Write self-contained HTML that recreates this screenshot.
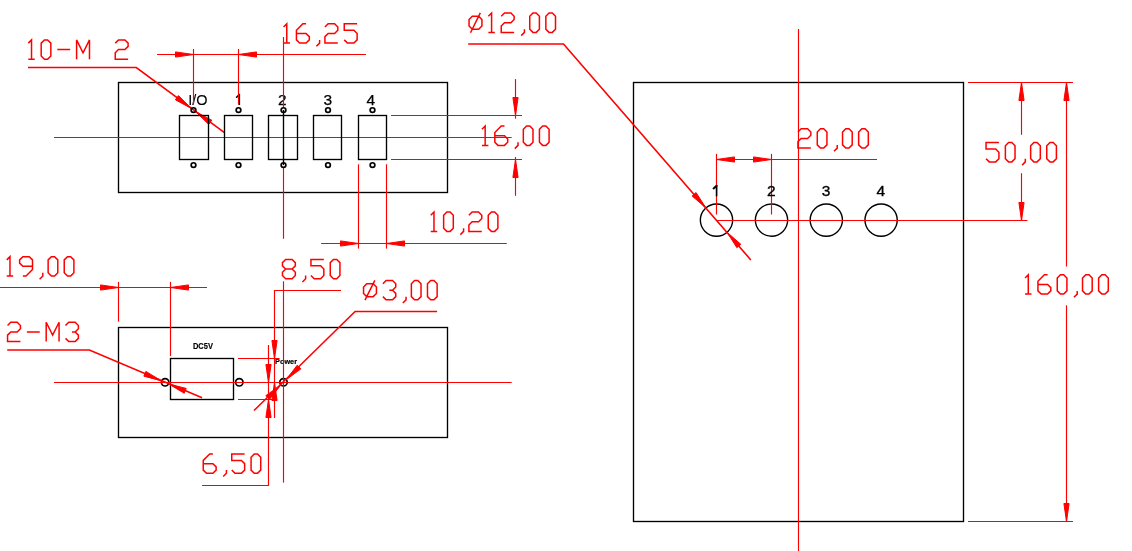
<!DOCTYPE html>
<html><head><meta charset="utf-8"><style>
html,body{margin:0;padding:0;background:#fff;}
body{width:1132px;height:551px;overflow:hidden;}
svg{display:block;}
text{font-family:"Liberation Sans",sans-serif;fill:#000;}
</style></head><body>
<svg width="1132" height="551" viewBox="0 0 1132 551" style="will-change:transform">
<rect x="0" y="0" width="1132" height="551" fill="#fff"/>
<text x="197.8" y="104.9" font-size="15.5" font-weight="normal" text-anchor="middle" stroke="#000" stroke-width="0.12" textLength="19.3" lengthAdjust="spacingAndGlyphs">I/O</text>
<line x1="239.3" y1="93.9" x2="239.3" y2="105" stroke="#000" stroke-width="1.6"/>
<line x1="236.6" y1="97.2" x2="239.3" y2="94.5" stroke="#000" stroke-width="1.6" stroke-linecap="round"/>
<text x="282.2" y="104.9" font-size="15.5" font-weight="normal" text-anchor="middle" stroke="#000" stroke-width="0.25">2</text>
<text x="327.7" y="104.9" font-size="15.5" font-weight="normal" text-anchor="middle" stroke="#000" stroke-width="0.25">3</text>
<text x="370.9" y="104.9" font-size="15.5" font-weight="normal" text-anchor="middle" stroke="#000" stroke-width="0.25">4</text>
<text x="192.9" y="348.7" font-size="8.4" font-weight="bold" textLength="20" lengthAdjust="spacingAndGlyphs" stroke="#000" stroke-width="0.15">DC5V</text>
<text x="275.1" y="364.1" font-size="8" font-weight="bold" textLength="21.9" lengthAdjust="spacingAndGlyphs" stroke="#000" stroke-width="0.2">Power</text>
<rect x="118.5" y="82.5" width="329" height="110" fill="none" stroke="#000" stroke-width="1.35"/>
<line x1="54" y1="137.5" x2="511.7" y2="137.5" stroke="#ff0000" stroke-width="1.15"/>
<line x1="283.5" y1="37" x2="283.5" y2="107.4" stroke="#ff0000" stroke-width="1.15"/>
<line x1="283.5" y1="167.8" x2="283.5" y2="238.8" stroke="#ff0000" stroke-width="1.15"/>
<line x1="193.5" y1="49" x2="193.5" y2="104.5" stroke="#ff0000" stroke-width="1.15"/>
<line x1="238.5" y1="49" x2="238.5" y2="104.5" stroke="#ff0000" stroke-width="1.15"/>
<line x1="157" y1="54.5" x2="366" y2="54.5" stroke="#ff0000" stroke-width="1.15"/>
<polygon points="193.5,54.5 175.5,57.1 175.5,51.9" fill="#ff0000" stroke="#ff0000" stroke-width="1" stroke-linejoin="round"/>
<polygon points="238.5,54.5 256.5,51.9 256.5,57.1" fill="#ff0000" stroke="#ff0000" stroke-width="1" stroke-linejoin="round"/>
<path d="M 283.55,27 L 286.77,23.78 L 286.77,43.1 M 283.55,43.1 L 289.99,43.1 M 306.09,23.78 L 302.87,23.78 L 296.43,30.22 L 296.43,39.88 L 299.65,43.1 L 306.09,43.1 L 309.31,39.88 L 309.31,36.66 L 306.09,33.44 L 296.43,33.44 M 319.61,39.88 L 319.61,43.1 L 316.39,46.32 M 324.93,27 L 328.15,23.78 L 334.59,23.78 L 337.81,27 L 337.81,30.22 L 334.59,33.44 L 328.15,33.44 L 324.93,36.66 L 324.93,43.1 L 337.81,43.1 M 344.25,39.88 L 347.47,43.1 L 353.91,43.1 L 357.13,39.88 L 357.13,33.44 L 353.91,30.22 L 344.25,30.22 L 344.25,23.78 L 357.13,23.78" fill="none" stroke="#ff0000" stroke-width="1.5" stroke-linejoin="miter" stroke-linecap="butt"/>
<path d="M 28.3,43.1 L 31.52,39.88 L 31.52,59.2 M 28.3,59.2 L 34.74,59.2 M 44.4,59.2 L 47.62,59.2 L 50.84,55.98 L 50.84,43.1 L 47.62,39.88 L 44.4,39.88 L 41.18,43.1 L 41.18,55.98 Z M 57.28,49.54 L 70.16,49.54 M 76.6,59.2 L 76.6,39.88 L 83.04,52.76 L 89.48,39.88 L 89.48,59.2 M 115.24,43.1 L 118.46,39.88 L 124.9,39.88 L 128.12,43.1 L 128.12,46.32 L 124.9,49.54 L 118.46,49.54 L 115.24,52.76 L 115.24,59.2 L 128.12,59.2" fill="none" stroke="#ff0000" stroke-width="1.5" stroke-linejoin="miter" stroke-linecap="butt"/>
<polyline points="28,67.5 136.3,67.5 224.5,132.6" fill="none" stroke="#ff0000" stroke-width="1.6"/>
<polygon points="191.33,108.49 175.37,99.77 178.49,95.61" fill="#ff0000" stroke="#ff0000" stroke-width="1" stroke-linejoin="round"/>
<polygon points="195.67,111.71 211.77,120.16 208.72,124.38" fill="#ff0000" stroke="#ff0000" stroke-width="1" stroke-linejoin="round"/>
<line x1="391" y1="115.5" x2="522" y2="115.5" stroke="#ff0000" stroke-width="1.15"/>
<line x1="391" y1="159.5" x2="522" y2="159.5" stroke="#ff0000" stroke-width="1.15"/>
<line x1="515.5" y1="79.1" x2="515.5" y2="118.7" stroke="#ff0000" stroke-width="1.15"/>
<line x1="515.5" y1="157" x2="515.5" y2="195.8" stroke="#ff0000" stroke-width="1.15"/>
<polygon points="515.5,115.5 512.9,97.5 518.1,97.5" fill="#ff0000" stroke="#ff0000" stroke-width="1" stroke-linejoin="round"/>
<polygon points="515.5,159.5 518.1,177.5 512.9,177.5" fill="#ff0000" stroke="#ff0000" stroke-width="1" stroke-linejoin="round"/>
<path d="M 481.95,129.3 L 485.17,126.08 L 485.17,145.4 M 481.95,145.4 L 488.39,145.4 M 504.49,126.08 L 501.27,126.08 L 494.83,132.52 L 494.83,142.18 L 498.05,145.4 L 504.49,145.4 L 507.71,142.18 L 507.71,138.96 L 504.49,135.74 L 494.83,135.74 M 518.01,142.18 L 518.01,145.4 L 514.79,148.62 M 526.55,145.4 L 529.77,145.4 L 532.99,142.18 L 532.99,129.3 L 529.77,126.08 L 526.55,126.08 L 523.33,129.3 L 523.33,142.18 Z M 542.65,145.4 L 545.87,145.4 L 549.09,142.18 L 549.09,129.3 L 545.87,126.08 L 542.65,126.08 L 539.43,129.3 L 539.43,142.18 Z" fill="none" stroke="#ff0000" stroke-width="1.5" stroke-linejoin="miter" stroke-linecap="butt"/>
<line x1="358.5" y1="164.3" x2="358.5" y2="248.6" stroke="#ff0000" stroke-width="1.15"/>
<line x1="386.5" y1="164.3" x2="386.5" y2="248.6" stroke="#ff0000" stroke-width="1.15"/>
<line x1="321.1" y1="243.5" x2="506.8" y2="243.5" stroke="#ff0000" stroke-width="1.15"/>
<polygon points="358.5,243.5 340.5,246.1 340.5,240.9" fill="#ff0000" stroke="#ff0000" stroke-width="1" stroke-linejoin="round"/>
<polygon points="386.5,243.5 404.5,240.9 404.5,246.1" fill="#ff0000" stroke="#ff0000" stroke-width="1" stroke-linejoin="round"/>
<path d="M 430.75,215.3 L 433.97,212.08 L 433.97,231.4 M 430.75,231.4 L 437.19,231.4 M 446.85,231.4 L 450.07,231.4 L 453.29,228.18 L 453.29,215.3 L 450.07,212.08 L 446.85,212.08 L 443.63,215.3 L 443.63,228.18 Z M 463.59,228.18 L 463.59,231.4 L 460.37,234.62 M 468.91,215.3 L 472.13,212.08 L 478.57,212.08 L 481.79,215.3 L 481.79,218.52 L 478.57,221.74 L 472.13,221.74 L 468.91,224.96 L 468.91,231.4 L 481.79,231.4 M 491.45,231.4 L 494.67,231.4 L 497.89,228.18 L 497.89,215.3 L 494.67,212.08 L 491.45,212.08 L 488.23,215.3 L 488.23,228.18 Z" fill="none" stroke="#ff0000" stroke-width="1.5" stroke-linejoin="miter" stroke-linecap="butt"/>
<rect x="179.5" y="115.5" width="29" height="44" fill="none" stroke="#000" stroke-width="1.35"/>
<circle cx="193.5" cy="110.1" r="2.35" fill="none" stroke="#000" stroke-width="1.7"/>
<circle cx="193.5" cy="165.1" r="2.35" fill="none" stroke="#000" stroke-width="1.7"/>
<rect x="224.5" y="115.5" width="28" height="44" fill="none" stroke="#000" stroke-width="1.35"/>
<circle cx="238.5" cy="110.1" r="2.35" fill="none" stroke="#000" stroke-width="1.7"/>
<circle cx="238.5" cy="165.1" r="2.35" fill="none" stroke="#000" stroke-width="1.7"/>
<rect x="268.5" y="115.5" width="29" height="44" fill="none" stroke="#000" stroke-width="1.35"/>
<circle cx="283.5" cy="110.1" r="2.35" fill="none" stroke="#000" stroke-width="1.7"/>
<circle cx="283.5" cy="165.1" r="2.35" fill="none" stroke="#000" stroke-width="1.7"/>
<rect x="313.5" y="115.5" width="28" height="44" fill="none" stroke="#000" stroke-width="1.35"/>
<circle cx="328" cy="110.1" r="2.35" fill="none" stroke="#000" stroke-width="1.7"/>
<circle cx="328" cy="165.1" r="2.35" fill="none" stroke="#000" stroke-width="1.7"/>
<rect x="358.5" y="115.5" width="28" height="44" fill="none" stroke="#000" stroke-width="1.35"/>
<circle cx="372.5" cy="110.1" r="2.35" fill="none" stroke="#000" stroke-width="1.7"/>
<circle cx="372.5" cy="165.1" r="2.35" fill="none" stroke="#000" stroke-width="1.7"/>
<line x1="283.5" y1="110" x2="283.5" y2="165.1" stroke="#000" stroke-width="1.35"/>
<rect x="118.5" y="327.5" width="329" height="110" fill="none" stroke="#000" stroke-width="1.35"/>
<rect x="170.5" y="358.5" width="63" height="41" fill="none" stroke="#000" stroke-width="1.35"/>
<circle cx="165.1" cy="382.3" r="3.7" fill="none" stroke="#000" stroke-width="1.7"/>
<circle cx="239.3" cy="382.3" r="3.7" fill="none" stroke="#000" stroke-width="1.7"/>
<circle cx="283.5" cy="382.3" r="3.7" fill="none" stroke="#000" stroke-width="1.7"/>
<line x1="54" y1="382.5" x2="511.7" y2="382.5" stroke="#ff0000" stroke-width="1.15"/>
<line x1="118.5" y1="281.9" x2="118.5" y2="321.7" stroke="#ff0000" stroke-width="1.15"/>
<line x1="170.5" y1="281.9" x2="170.5" y2="356.1" stroke="#ff0000" stroke-width="1.15"/>
<line x1="0" y1="287.5" x2="207" y2="287.5" stroke="#ff0000" stroke-width="1.15"/>
<polygon points="118.5,287.5 100.5,290.1 100.5,284.9" fill="#ff0000" stroke="#ff0000" stroke-width="1" stroke-linejoin="round"/>
<polygon points="170.5,287.5 188.5,284.9 188.5,290.1" fill="#ff0000" stroke="#ff0000" stroke-width="1" stroke-linejoin="round"/>
<path d="M 6.75,259.9 L 9.97,256.68 L 9.97,276 M 6.75,276 L 13.19,276 M 22.85,276 L 26.07,276 L 32.51,269.56 L 32.51,259.9 L 29.29,256.68 L 22.85,256.68 L 19.63,259.9 L 19.63,263.12 L 22.85,266.34 L 32.51,266.34 M 42.81,272.78 L 42.81,276 L 39.59,279.22 M 51.35,276 L 54.57,276 L 57.79,272.78 L 57.79,259.9 L 54.57,256.68 L 51.35,256.68 L 48.13,259.9 L 48.13,272.78 Z M 67.45,276 L 70.67,276 L 73.89,272.78 L 73.89,259.9 L 70.67,256.68 L 67.45,256.68 L 64.23,259.9 L 64.23,272.78 Z" fill="none" stroke="#ff0000" stroke-width="1.5" stroke-linejoin="miter" stroke-linecap="butt"/>
<path d="M 7.55,325.5 L 10.77,322.28 L 17.21,322.28 L 20.43,325.5 L 20.43,328.72 L 17.21,331.94 L 10.77,331.94 L 7.55,335.16 L 7.55,341.6 L 20.43,341.6 M 26.87,331.94 L 39.75,331.94 M 46.19,341.6 L 46.19,322.28 L 52.63,335.16 L 59.07,322.28 L 59.07,341.6 M 65.51,325.5 L 68.73,322.28 L 75.17,322.28 L 78.39,325.5 L 78.39,328.72 L 75.17,331.94 L 71.95,331.94 M 75.17,331.94 L 78.39,335.16 L 78.39,338.38 L 75.17,341.6 L 68.73,341.6 L 65.51,338.38" fill="none" stroke="#ff0000" stroke-width="1.5" stroke-linejoin="miter" stroke-linecap="butt"/>
<polyline points="7.2,350 89.4,350 202.1,397.8" fill="none" stroke="#ff0000" stroke-width="1.6"/>
<polygon points="161.41,380.88 143.84,376.17 145.89,371.39" fill="#ff0000" stroke="#ff0000" stroke-width="1" stroke-linejoin="round"/>
<polygon points="168.59,383.92 186.22,388.41 184.23,393.21" fill="#ff0000" stroke="#ff0000" stroke-width="1" stroke-linejoin="round"/>
<line x1="238" y1="358.5" x2="279.6" y2="358.5" stroke="#ff0000" stroke-width="1.15"/>
<line x1="238" y1="399.5" x2="277" y2="399.5" stroke="#ff0000" stroke-width="1.15"/>
<line x1="283.5" y1="281.3" x2="283.5" y2="482.6" stroke="#ff0000" stroke-width="1.15"/>
<polyline points="341,290.5 274.5,290.5 274.5,418.1" fill="none" stroke="#ff0000" stroke-width="1.15"/>
<polygon points="274.5,358.5 271.9,340.5 277.1,340.5" fill="#ff0000" stroke="#ff0000" stroke-width="1" stroke-linejoin="round"/>
<polygon points="274.5,382.5 277.1,400.5 271.9,400.5" fill="#ff0000" stroke="#ff0000" stroke-width="1" stroke-linejoin="round"/>
<path d="M 285.67,269.04 L 282.45,265.82 L 282.45,262.6 L 285.67,259.38 L 292.11,259.38 L 295.33,262.6 L 295.33,265.82 L 292.11,269.04 L 285.67,269.04 L 282.45,272.26 L 282.45,275.48 L 285.67,278.7 L 292.11,278.7 L 295.33,275.48 L 295.33,272.26 L 292.11,269.04 M 305.63,275.48 L 305.63,278.7 L 302.41,281.92 M 310.95,275.48 L 314.17,278.7 L 320.61,278.7 L 323.83,275.48 L 323.83,269.04 L 320.61,265.82 L 310.95,265.82 L 310.95,259.38 L 323.83,259.38 M 333.49,278.7 L 336.71,278.7 L 339.93,275.48 L 339.93,262.6 L 336.71,259.38 L 333.49,259.38 L 330.27,262.6 L 330.27,275.48 Z" fill="none" stroke="#ff0000" stroke-width="1.5" stroke-linejoin="miter" stroke-linecap="butt"/>
<polyline points="202.1,485.5 268.5,485.5 268.5,345" fill="none" stroke="#ff0000" stroke-width="1.15"/>
<polygon points="268.5,382.5 265.9,364.5 271.1,364.5" fill="#ff0000" stroke="#ff0000" stroke-width="1" stroke-linejoin="round"/>
<polygon points="268.5,399.5 271.1,417.5 265.9,417.5" fill="#ff0000" stroke="#ff0000" stroke-width="1" stroke-linejoin="round"/>
<path d="M 212.91,453.98 L 209.69,453.98 L 203.25,460.42 L 203.25,470.08 L 206.47,473.3 L 212.91,473.3 L 216.13,470.08 L 216.13,466.86 L 212.91,463.64 L 203.25,463.64 M 226.43,470.08 L 226.43,473.3 L 223.21,476.52 M 231.75,470.08 L 234.97,473.3 L 241.41,473.3 L 244.63,470.08 L 244.63,463.64 L 241.41,460.42 L 231.75,460.42 L 231.75,453.98 L 244.63,453.98 M 254.29,473.3 L 257.51,473.3 L 260.73,470.08 L 260.73,457.2 L 257.51,453.98 L 254.29,453.98 L 251.07,457.2 L 251.07,470.08 Z" fill="none" stroke="#ff0000" stroke-width="1.5" stroke-linejoin="miter" stroke-linecap="butt"/>
<polyline points="437.1,311.5 355.1,311.5 254,410.5" fill="none" stroke="#ff0000" stroke-width="1.6"/>
<polygon points="286.29,379.67 297.24,365.15 300.9,368.85" fill="#ff0000" stroke="#ff0000" stroke-width="1" stroke-linejoin="round"/>
<polygon points="280.71,385.13 269.45,399.41 265.87,395.64" fill="#ff0000" stroke="#ff0000" stroke-width="1" stroke-linejoin="round"/>
<path d="M 366.77,296.63 L 373.21,296.63 L 376.43,293.41 L 376.43,286.97 L 373.21,283.75 L 366.77,283.75 L 363.55,286.97 L 363.55,293.41 Z M 365,300.17 L 374.82,280.37 M 382.87,283.75 L 386.09,280.53 L 392.53,280.53 L 395.75,283.75 L 395.75,286.97 L 392.53,290.19 L 389.31,290.19 M 392.53,290.19 L 395.75,293.41 L 395.75,296.63 L 392.53,299.85 L 386.09,299.85 L 382.87,296.63 M 406.05,296.63 L 406.05,299.85 L 402.83,303.07 M 414.59,299.85 L 417.81,299.85 L 421.03,296.63 L 421.03,283.75 L 417.81,280.53 L 414.59,280.53 L 411.37,283.75 L 411.37,296.63 Z M 430.69,299.85 L 433.91,299.85 L 437.13,296.63 L 437.13,283.75 L 433.91,280.53 L 430.69,280.53 L 427.47,283.75 L 427.47,296.63 Z" fill="none" stroke="#ff0000" stroke-width="1.5" stroke-linejoin="miter" stroke-linecap="butt"/>
<rect x="633.5" y="82.5" width="330" height="439" fill="none" stroke="#000" stroke-width="1.35"/>
<line x1="798.5" y1="28.9" x2="798.5" y2="551" stroke="#ff0000" stroke-width="1.15"/>
<circle cx="716.5" cy="220.1" r="16.15" fill="none" stroke="#000" stroke-width="1.4"/>
<circle cx="771.5" cy="220.1" r="16.15" fill="none" stroke="#000" stroke-width="1.4"/>
<circle cx="826.3" cy="220.1" r="16.15" fill="none" stroke="#000" stroke-width="1.4"/>
<circle cx="881.1" cy="220.1" r="16.15" fill="none" stroke="#000" stroke-width="1.4"/>
<line x1="716.5" y1="220.5" x2="1027.5" y2="220.5" stroke="#ff0000" stroke-width="1.15"/>
<line x1="716.5" y1="153.9" x2="716.5" y2="214.5" stroke="#ff0000" stroke-width="1.15"/>
<line x1="771.5" y1="153.9" x2="771.5" y2="214.5" stroke="#ff0000" stroke-width="1.15"/>
<line x1="716.5" y1="159.5" x2="877" y2="159.5" stroke="#ff0000" stroke-width="1.15"/>
<polygon points="716.5,159.5 734.5,156.9 734.5,162.1" fill="#ff0000" stroke="#ff0000" stroke-width="1" stroke-linejoin="round"/>
<polygon points="771.5,159.5 753.5,162.1 753.5,156.9" fill="#ff0000" stroke="#ff0000" stroke-width="1" stroke-linejoin="round"/>
<path d="M 797.95,132 L 801.17,128.78 L 807.61,128.78 L 810.83,132 L 810.83,135.22 L 807.61,138.44 L 801.17,138.44 L 797.95,141.66 L 797.95,148.1 L 810.83,148.1 M 820.49,148.1 L 823.71,148.1 L 826.93,144.88 L 826.93,132 L 823.71,128.78 L 820.49,128.78 L 817.27,132 L 817.27,144.88 Z M 837.23,144.88 L 837.23,148.1 L 834.01,151.32 M 845.77,148.1 L 848.99,148.1 L 852.21,144.88 L 852.21,132 L 848.99,128.78 L 845.77,128.78 L 842.55,132 L 842.55,144.88 Z M 861.87,148.1 L 865.09,148.1 L 868.31,144.88 L 868.31,132 L 865.09,128.78 L 861.87,128.78 L 858.65,132 L 858.65,144.88 Z" fill="none" stroke="#ff0000" stroke-width="1.5" stroke-linejoin="miter" stroke-linecap="butt"/>
<line x1="968" y1="82.5" x2="1073" y2="82.5" stroke="#ff0000" stroke-width="1.15"/>
<line x1="1021.5" y1="82.3" x2="1021.5" y2="134.8" stroke="#ff0000" stroke-width="1.15"/>
<line x1="1021.5" y1="173.2" x2="1021.5" y2="220.5" stroke="#ff0000" stroke-width="1.15"/>
<polygon points="1021.5,82.5 1024.1,100.5 1018.9,100.5" fill="#ff0000" stroke="#ff0000" stroke-width="1" stroke-linejoin="round"/>
<polygon points="1021.5,220.5 1018.9,202.5 1024.1,202.5" fill="#ff0000" stroke="#ff0000" stroke-width="1" stroke-linejoin="round"/>
<path d="M 986.05,158.68 L 989.27,161.9 L 995.71,161.9 L 998.93,158.68 L 998.93,152.24 L 995.71,149.02 L 986.05,149.02 L 986.05,142.58 L 998.93,142.58 M 1008.59,161.9 L 1011.81,161.9 L 1015.03,158.68 L 1015.03,145.8 L 1011.81,142.58 L 1008.59,142.58 L 1005.37,145.8 L 1005.37,158.68 Z M 1025.33,158.68 L 1025.33,161.9 L 1022.11,165.12 M 1033.87,161.9 L 1037.09,161.9 L 1040.31,158.68 L 1040.31,145.8 L 1037.09,142.58 L 1033.87,142.58 L 1030.65,145.8 L 1030.65,158.68 Z M 1049.97,161.9 L 1053.19,161.9 L 1056.41,158.68 L 1056.41,145.8 L 1053.19,142.58 L 1049.97,142.58 L 1046.75,145.8 L 1046.75,158.68 Z" fill="none" stroke="#ff0000" stroke-width="1.5" stroke-linejoin="miter" stroke-linecap="butt"/>
<line x1="968" y1="521.5" x2="1073" y2="521.5" stroke="#ff0000" stroke-width="1.15"/>
<line x1="1066.5" y1="82.3" x2="1066.5" y2="266.5" stroke="#ff0000" stroke-width="1.15"/>
<line x1="1066.5" y1="305.3" x2="1066.5" y2="521.4" stroke="#ff0000" stroke-width="1.15"/>
<polygon points="1066.5,82.5 1069.1,100.5 1063.9,100.5" fill="#ff0000" stroke="#ff0000" stroke-width="1" stroke-linejoin="round"/>
<polygon points="1066.5,521.5 1063.9,503.5 1069.1,503.5" fill="#ff0000" stroke="#ff0000" stroke-width="1" stroke-linejoin="round"/>
<path d="M 1025.05,278 L 1028.27,274.78 L 1028.27,294.1 M 1025.05,294.1 L 1031.49,294.1 M 1047.59,274.78 L 1044.37,274.78 L 1037.93,281.22 L 1037.93,290.88 L 1041.15,294.1 L 1047.59,294.1 L 1050.81,290.88 L 1050.81,287.66 L 1047.59,284.44 L 1037.93,284.44 M 1060.47,294.1 L 1063.69,294.1 L 1066.91,290.88 L 1066.91,278 L 1063.69,274.78 L 1060.47,274.78 L 1057.25,278 L 1057.25,290.88 Z M 1077.21,290.88 L 1077.21,294.1 L 1073.99,297.32 M 1085.75,294.1 L 1088.97,294.1 L 1092.19,290.88 L 1092.19,278 L 1088.97,274.78 L 1085.75,274.78 L 1082.53,278 L 1082.53,290.88 Z M 1101.85,294.1 L 1105.07,294.1 L 1108.29,290.88 L 1108.29,278 L 1105.07,274.78 L 1101.85,274.78 L 1098.63,278 L 1098.63,290.88 Z" fill="none" stroke="#ff0000" stroke-width="1.5" stroke-linejoin="miter" stroke-linecap="butt"/>
<path d="M 472.27,29.18 L 478.71,29.18 L 481.93,25.96 L 481.93,19.52 L 478.71,16.3 L 472.27,16.3 L 469.05,19.52 L 469.05,25.96 Z M 470.5,32.72 L 480.32,12.92 M 488.37,16.3 L 491.59,13.08 L 491.59,32.4 M 488.37,32.4 L 494.81,32.4 M 501.25,16.3 L 504.47,13.08 L 510.91,13.08 L 514.13,16.3 L 514.13,19.52 L 510.91,22.74 L 504.47,22.74 L 501.25,25.96 L 501.25,32.4 L 514.13,32.4 M 524.43,29.18 L 524.43,32.4 L 521.21,35.62 M 532.97,32.4 L 536.19,32.4 L 539.41,29.18 L 539.41,16.3 L 536.19,13.08 L 532.97,13.08 L 529.75,16.3 L 529.75,29.18 Z M 549.07,32.4 L 552.29,32.4 L 555.51,29.18 L 555.51,16.3 L 552.29,13.08 L 549.07,13.08 L 545.85,16.3 L 545.85,29.18 Z" fill="none" stroke="#ff0000" stroke-width="1.5" stroke-linejoin="miter" stroke-linecap="butt"/>
<polyline points="468.2,44 563.5,44 750.8,259.9" fill="none" stroke="#ff0000" stroke-width="1.6"/>
<polygon points="705.88,207.86 692.12,195.98 696.04,192.57" fill="#ff0000" stroke="#ff0000" stroke-width="1" stroke-linejoin="round"/>
<polygon points="727.12,232.34 740.82,244.29 736.87,247.68" fill="#ff0000" stroke="#ff0000" stroke-width="1" stroke-linejoin="round"/>
<line x1="716.6" y1="185.2" x2="716.6" y2="196.4" stroke="#000" stroke-width="1.6"/>
<line x1="713.6" y1="188.4" x2="716.6" y2="185.8" stroke="#000" stroke-width="2.0" stroke-linecap="round"/>
<text x="771.2" y="196" font-size="15.5" font-weight="normal" text-anchor="middle" stroke="#000" stroke-width="0.35">2</text>
<text x="826" y="196" font-size="15.5" font-weight="normal" text-anchor="middle" stroke="#000" stroke-width="0.35">3</text>
<text x="880.8" y="196" font-size="15.5" font-weight="normal" text-anchor="middle" stroke="#000" stroke-width="0.35">4</text>
</svg>
</body></html>
